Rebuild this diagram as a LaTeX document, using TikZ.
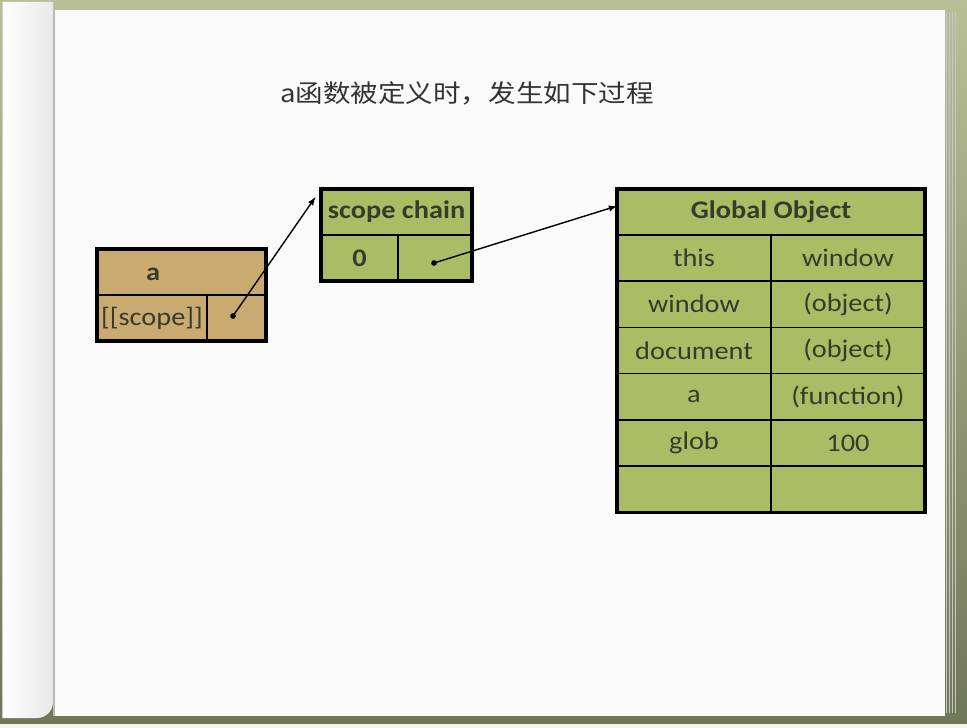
\documentclass[tikz,border=0pt]{standalone}
\usepackage{fontspec}
\setmainfont[FakeStretch=1.12]{Carlito}
\newfontfamily\cjk[FakeStretch=1.12]{Noto Sans CJK SC}
\usetikzlibrary{positioning}

\definecolor{frameTop}{RGB}{184,191,152}
\definecolor{frameBot}{RGB}{112,118,88}
\definecolor{tanFill}{RGB}{201,170,112}
\definecolor{leafFill}{RGB}{170,189,101}
\definecolor{ink}{RGB}{58,58,44}
\definecolor{titleInk}{RGB}{51,51,51}

\def\pxu{0.025cm}

\tikzset{
    cell/.style={draw=black, line width=1.2pt, fill=#1, inner sep=0pt, outer sep=0pt,
        anchor=north west, text=ink, font=\fontsize{18}{20}\selectfont},
    head/.style={font=\fontsize{18}{20}\selectfont\bfseries},
    outer/.style={draw=black, line width=2.2pt},
    dot/.style={circle, fill=black, inner sep=0pt, minimum size=4pt},
    ptr/.style={-latex, line width=1pt},
}

\begin{document}
\begin{tikzpicture}[x=0.025cm, y=-0.025cm]
    \useasboundingbox (0,0) rectangle (967,728);

    % Book background
    \shade[top color=frameTop, bottom color=frameBot] (0,0) rectangle (967,724);
    \fill[gray!12] (0,724) rectangle (967,728);
    \fill[white!96!gray] (53,10) rectangle (945,716);
    \foreach \x in {946,949,952,955} \draw[gray!45, line width=0.6pt] (\x,12) -- (\x,713);
    \shade[left color=white, right color=gray!18] (2,2) -- (53,2) -- (53,702) arc (0:90:16) -- (2,718) -- cycle;
    \draw[gray!40, line width=0.5pt] (2,2) -- (2,718);
    \draw[gray!55, line width=1.2pt] (54,10) -- (54,716);

    % Title
    \node[text=titleInk, font=\cjk\fontsize{17.5}{21}\selectfont] (title) at (467,93) {a函数被定义时，发生如下过程};

    % Function a
    \node[cell=tanFill, minimum width=169*\pxu, minimum height=46*\pxu] (aHead) at (97,249) {};
    \node[cell=tanFill, minimum width=110*\pxu, minimum height=46*\pxu] (aScope) at (97,295) {[[scope]]};
    \node[cell=tanFill, minimum width=59*\pxu, minimum height=46*\pxu] (aRef) at (207,295) {};
    \draw[outer] (aHead.north west) rectangle (aRef.south east);
    \node[head, text=ink] (aName) at (153,274) {a};
    \node[dot] (aPtr) at (233,316) {};

    % Scope chain
    \node[cell=leafFill, head, minimum width=151*\pxu, minimum height=46*\pxu] (sHead) at (321,189) {scope chain};
    \node[cell=leafFill, head, minimum width=77*\pxu, minimum height=46*\pxu] (sIdx) at (321,235) {0};
    \node[cell=leafFill, minimum width=74*\pxu, minimum height=46*\pxu] (sRef) at (398,235) {};
    \draw[outer] (sHead.north west) rectangle (sRef.south east);
    \node[dot] (sPtr) at (434,263) {};

    % Global Object
    \node[cell=leafFill, head, minimum width=308*\pxu, minimum height=46*\pxu] (gHead) at (617,189) {Global Object};
    \foreach \k/\v [count=\i] in {{this}/{window}, {window}/{(object)}, {document}/{(object)},
                                  {a}/{(function)}, {glob}/{100}, {}/{}} {
        \node[cell=leafFill, minimum width=154*\pxu, minimum height=46.2*\pxu] (gk\i) at (617,{188.8+46.2*\i}) {\k};
        \node[cell=leafFill, minimum width=154*\pxu, minimum height=46.2*\pxu] (gv\i) at (771,{188.8+46.2*\i}) {\v};
    }
    \draw[outer] (gHead.north west) rectangle (gv6.south east);

    % Pointers
    \draw[ptr, shorten >=7pt] (aPtr.center) -- (sHead.north west);
    \draw[ptr] (sPtr.center) -- ([yshift=0.15cm]gHead.west);
\end{tikzpicture}
\end{document}
